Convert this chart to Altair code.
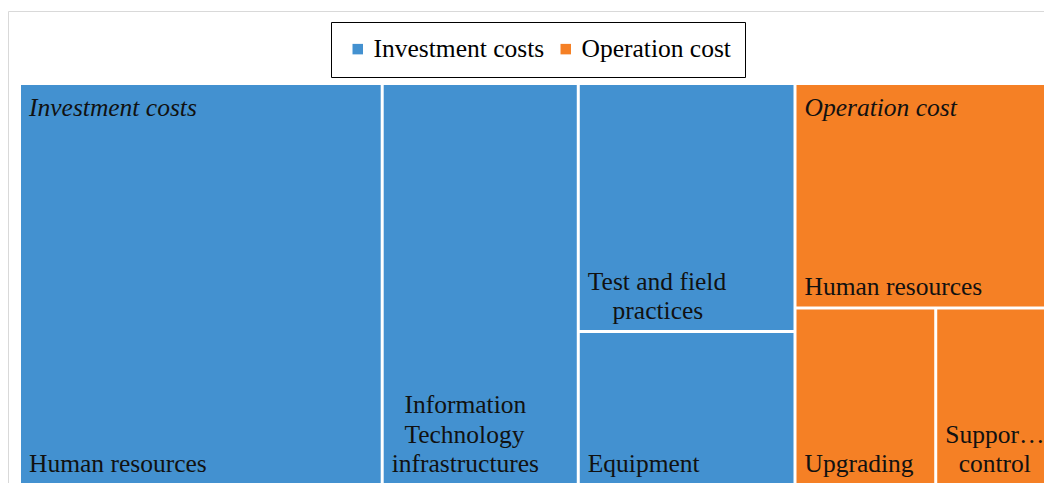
import altair as alt
import pandas as pd

# ---------------- data ----------------
groups = ["Investment costs", "Operation cost"]
leaf_group = ["Investment costs", "Investment costs", "Investment costs", "Investment costs",
              "Operation cost", "Operation cost", "Operation cost"]
leaf_names = ["Human resources", "Information Technology infrastructures",
              "Test and field practices", "Equipment",
              "Human resources", "Upgrading", "Support and control"]
leaf_values = [35, 19, 13, 8, 14, 6, 5]
label_lines = [["Human resources"],
               ["Information", "Technology", "infrastructures"],
               ["Test and field", "practices"],
               ["Equipment"],
               ["Human resources"],
               ["Upgrading"],
               ["Suppor…", "control"]]
colors = ["#4391d0", "#f58025"]

# ---------------- layout ----------------
W, H = 1032, 398          # treemap extent (part of it falls beyond the window edge)
VIEW_W = 1023             # visible plot width inside the page
GAP = 1.5
FS = 25.5
LINE_H = 29.3

# Times / Liberation Serif advance widths (em)
CW = {'H': .722, 'u': .5, 'm': .778, 'a': .444, 'n': .5, ' ': .25, 'r': .333, 'e': .444,
      's': .389, 'o': .5, 'c': .444, 'I': .333, 'f': .333, 't': .278, 'i': .278, 'T': .611,
      'h': .5, 'l': .278, 'g': .5, 'y': .5, 'd': .5, 'p': .5, 'E': .611, 'q': .5, 'U': .722,
      'S': .556, '…': 1.0}


def text_w(s):
    return sum(CW.get(ch, .5) for ch in s) * FS


def worst(row, side):
    s = sum(row)
    return max(max(side * side * r / (s * s), s * s / (side * side * r)) for r in row)


def squarify(vals, x, y, w, h):
    total = sum(vals)
    areas = [v * w * h / total for v in vals]
    rects = []
    i = 0
    while i < len(areas):
        side = min(w, h)
        row = [areas[i]]
        j = i + 1
        while j < len(areas) and worst(row + [areas[j]], side) <= worst(row, side):
            row.append(areas[j])
            j += 1
        s = sum(row)
        if w >= h:
            cw = s / h
            cy = y
            for a in row:
                rh = a / cw
                rects.append((x, cy, x + cw, cy + rh))
                cy += rh
            x += cw
            w -= cw
        else:
            rh = s / w
            cx = x
            for a in row:
                rw = a / rh
                rects.append((cx, y, cx + rw, y + rh))
                cx += rw
            y += rh
            h -= rh
        i = j
    return rects


def inset(r):
    x0, y0, x1, y1 = r
    if x0 > 1e-6:
        x0 += GAP
    if y0 > 1e-6:
        y0 += GAP
    if x1 < W - 1e-6:
        x1 -= GAP
    if y1 < H - 1e-6:
        y1 -= GAP
    return x0, y0, x1, y1


group_totals = [sum(v for g, v in zip(leaf_group, leaf_values) if g == grp) for grp in groups]
group_rects = squarify(group_totals, 0, 0, W, H)

rect_rows, group_rows, line_rows = [], [], []
for grp, gr in zip(groups, group_rects):
    idx = [k for k, g in enumerate(leaf_group) if g == grp]
    vals = [leaf_values[k] for k in idx]
    sub = squarify(vals, gr[0], gr[1], gr[2] - gr[0], gr[3] - gr[1])
    gx0, gy0, _, _ = inset(gr)
    group_rows.append({"group": grp, "gx": gx0, "gy": gy0})
    for k, r in zip(idx, sub):
        x0, y0, x1, y1 = inset(r)
        rect_rows.append({"group": grp, "name": leaf_names[k], "value": leaf_values[k],
                          "x0": x0, "x1": x1, "y0": y0, "y1": y1})
        lines = label_lines[k]
        n = len(lines)
        maxw = max(text_w(s) for s in lines)
        for li, s in enumerate(lines):
            line_rows.append({"line": s,
                              "lx": x0 + 8 + (maxw - text_w(s)) / 2,
                              "ly": y1 - 11 - (n - 1 - li) * LINE_H})

rects = pd.DataFrame(rect_rows)
glabels = pd.DataFrame(group_rows)
llabels = pd.DataFrame(line_rows)

xs = alt.Scale(domain=[0, W], range=[0, W], nice=False, zero=False)
ys = alt.Scale(domain=[0, H], nice=False, zero=False, reverse=True)

frame = alt.Chart(pd.DataFrame({"a": [0]})).mark_rect(
    filled=False, stroke="#d9d9d9", strokeWidth=1
).encode(
    x=alt.value(-12.5), x2=alt.value(W + 12.5),
    y=alt.value(-73.5), y2=alt.value(H + 40)
)

cells = alt.Chart(rects).mark_rect().encode(
    x=alt.X("x0:Q", scale=xs, axis=None),
    x2="x1:Q",
    y=alt.Y("y0:Q", scale=ys, axis=None),
    y2="y1:Q",
    color=alt.Color("group:N",
                    scale=alt.Scale(domain=groups, range=colors),
                    legend=alt.Legend(orient="none", legendX=310, legendY=-63,
                                      direction="horizontal", title=None,
                                      symbolType="square", symbolSize=110,
                                      symbolStrokeWidth=0, symbolOffset=0,
                                      labelFont="Liberation Serif", labelFontSize=FS,
                                      labelColor="#000000", labelLimit=400,
                                      labelOffset=3, columnPadding=8,
                                      padding=14, strokeColor="#000000",
                                      fillColor="#ffffff")),
    tooltip=["group:N", "name:N", "value:Q"]
)

gtext = alt.Chart(glabels).mark_text(
    align="left", baseline="alphabetic", dx=8, dy=31,
    font="Liberation Serif", fontSize=FS, fontStyle="italic", color="#111111"
).encode(
    x=alt.X("gx:Q", scale=xs, axis=None),
    y=alt.Y("gy:Q", scale=ys, axis=None),
    text="group:N"
)

ltext = alt.Chart(llabels).mark_text(
    align="left", baseline="alphabetic",
    font="Liberation Serif", fontSize=FS, color="#111111"
).encode(
    x=alt.X("lx:Q", scale=xs, axis=None),
    y=alt.Y("ly:Q", scale=ys, axis=None),
    text="line:N"
)

chart = alt.layer(frame, cells, gtext, ltext).properties(
    width=VIEW_W, height=H,
    padding={"left": 13, "top": 77, "right": 0, "bottom": 0},
    autosize=alt.AutoSizeParams(type="none"),
    background="#ffffff"
).configure_view(strokeWidth=0)

chart.save("out.html", embed_options={"renderer": "svg", "actions": False})
